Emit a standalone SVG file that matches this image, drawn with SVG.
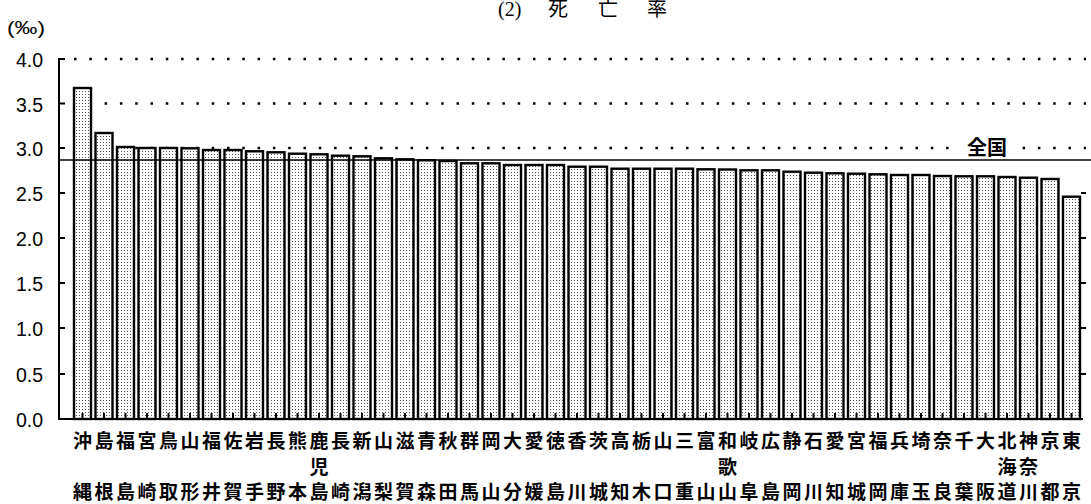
<svg xmlns="http://www.w3.org/2000/svg" width="1091" height="504" viewBox="0 0 1091 504">
<defs>
<pattern id="dots" width="3" height="3" patternUnits="userSpaceOnUse">
<rect width="3" height="3" fill="#fff"/>
<rect x="1" y="1" width="1" height="1" fill="#555"/>
</pattern>
</defs>
<style>
.bar{fill:url(#dots);stroke:#000;stroke-width:2.4}
.grid{stroke:#000;stroke-width:2.5;stroke-dasharray:2.5 12.8;fill:none}
.ax{stroke:#000;stroke-width:2;fill:none}
.yl{font-family:"Liberation Sans",Arial,sans-serif;font-size:19.5px;text-anchor:end;fill:#000}
.lb{font-family:"Noto Sans CJK JP",sans-serif;font-size:19px;font-weight:bold;text-anchor:middle;fill:#000}
.tt{font-family:"Liberation Serif","Noto Sans CJK JP",serif;font-size:20px;fill:#000}
</style>
<rect width="1091" height="504" fill="#fff"/>
<text class="tt" y="16"><tspan x="498">(2)</tspan><tspan x="548">死</tspan><tspan x="598">亡</tspan><tspan x="647">率</tspan></text>
<text x="7" y="34" font-family="'Liberation Sans',Arial,sans-serif" font-size="19" textLength="38" lengthAdjust="spacingAndGlyphs">(‰)</text>
<g id="axes">
<line class="grid" x1="74" y1="59" x2="1086" y2="59"/>
<line class="grid" x1="74" y1="103.5" x2="1086" y2="103.5"/>
<line class="grid" x1="74" y1="148" x2="1086" y2="148"/>
<line class="ax" x1="59" y1="58" x2="59" y2="420"/>
<line class="ax" x1="58" y1="419" x2="1083" y2="419"/>
<path class="ax" d="M59 59H65M59 103.5H65M59 148H65M59 193H65M59 238H65M59 283H65M59 328H65M59 374H65M1081 193H1086M1081 238H1086M1081 283H1086M1081 328H1086M1081 374H1086"/>
<text class="yl" x="43" y="67">4.0</text>
<text class="yl" x="43" y="111.5">3.5</text>
<text class="yl" x="43" y="156">3.0</text>
<text class="yl" x="43" y="201">2.5</text>
<text class="yl" x="43" y="246">2.0</text>
<text class="yl" x="43" y="291">1.5</text>
<text class="yl" x="43" y="336">1.0</text>
<text class="yl" x="43" y="382">0.5</text>
<text class="yl" x="43" y="427">0.0</text>
</g>
<g id="bars">
<g id="b00"><rect class="bar" x="74" y="88" width="17" height="331"/><text class="lb" x="82.5" y="447.5">沖</text><text class="lb" x="82.5" y="499">縄</text></g>
<g id="b01"><rect class="bar" x="95.5" y="133" width="17" height="286"/><text class="lb" x="104" y="447.5">島</text><text class="lb" x="104" y="499">根</text></g>
<g id="b02"><rect class="bar" x="117" y="147" width="17" height="272"/><text class="lb" x="125.5" y="447.5">福</text><text class="lb" x="125.5" y="499">島</text></g>
<g id="b03"><rect class="bar" x="138.5" y="148" width="17" height="271"/><text class="lb" x="147" y="447.5">宮</text><text class="lb" x="147" y="499">崎</text></g>
<g id="b04"><rect class="bar" x="160" y="148" width="17" height="271"/><text class="lb" x="168.5" y="447.5">鳥</text><text class="lb" x="168.5" y="499">取</text></g>
<g id="b05"><rect class="bar" x="181.5" y="148.3" width="17" height="270.7"/><text class="lb" x="190" y="447.5">山</text><text class="lb" x="190" y="499">形</text></g>
<g id="b06"><rect class="bar" x="203" y="150" width="17" height="269"/><text class="lb" x="211.5" y="447.5">福</text><text class="lb" x="211.5" y="499">井</text></g>
<g id="b07"><rect class="bar" x="224.5" y="150" width="17" height="269"/><text class="lb" x="233" y="447.5">佐</text><text class="lb" x="233" y="499">賀</text></g>
<g id="b08"><rect class="bar" x="246" y="151.3" width="17" height="267.7"/><text class="lb" x="254.5" y="447.5">岩</text><text class="lb" x="254.5" y="499">手</text></g>
<g id="b09"><rect class="bar" x="267.5" y="152.3" width="17" height="266.7"/><text class="lb" x="276" y="447.5">長</text><text class="lb" x="276" y="499">野</text></g>
<g id="b10"><rect class="bar" x="289" y="153.7" width="17" height="265.3"/><text class="lb" x="297.5" y="447.5">熊</text><text class="lb" x="297.5" y="499">本</text></g>
<g id="b11"><rect class="bar" x="310.5" y="154.3" width="17" height="264.7"/><text class="lb" x="319" y="447.5">鹿</text><text class="lb" x="319" y="473.5">児</text><text class="lb" x="319" y="499">島</text></g>
<g id="b12"><rect class="bar" x="332" y="155.7" width="17" height="263.3"/><text class="lb" x="340.5" y="447.5">長</text><text class="lb" x="340.5" y="499">崎</text></g>
<g id="b13"><rect class="bar" x="353.5" y="156.3" width="17" height="262.7"/><text class="lb" x="362" y="447.5">新</text><text class="lb" x="362" y="499">潟</text></g>
<g id="b14"><rect class="bar" x="375" y="158.3" width="17" height="260.7"/><text class="lb" x="383.5" y="447.5">山</text><text class="lb" x="383.5" y="499">梨</text></g>
<g id="b15"><rect class="bar" x="396.5" y="159.3" width="17" height="259.7"/><text class="lb" x="405" y="447.5">滋</text><text class="lb" x="405" y="499">賀</text></g>
<g id="b16"><rect class="bar" x="418" y="160.3" width="17" height="258.7"/><text class="lb" x="426.5" y="447.5">青</text><text class="lb" x="426.5" y="499">森</text></g>
<g id="b17"><rect class="bar" x="439.5" y="161" width="17" height="258"/><text class="lb" x="448" y="447.5">秋</text><text class="lb" x="448" y="499">田</text></g>
<g id="b18"><rect class="bar" x="461" y="163.3" width="17" height="255.7"/><text class="lb" x="469.5" y="447.5">群</text><text class="lb" x="469.5" y="499">馬</text></g>
<g id="b19"><rect class="bar" x="482.5" y="163.3" width="17" height="255.7"/><text class="lb" x="491" y="447.5">岡</text><text class="lb" x="491" y="499">山</text></g>
<g id="b20"><rect class="bar" x="504" y="165" width="17" height="254"/><text class="lb" x="512.5" y="447.5">大</text><text class="lb" x="512.5" y="499">分</text></g>
<g id="b21"><rect class="bar" x="525.5" y="165" width="17" height="254"/><text class="lb" x="534" y="447.5">愛</text><text class="lb" x="534" y="499">媛</text></g>
<g id="b22"><rect class="bar" x="547" y="165" width="17" height="254"/><text class="lb" x="555.5" y="447.5">徳</text><text class="lb" x="555.5" y="499">島</text></g>
<g id="b23"><rect class="bar" x="568.5" y="166.7" width="17" height="252.3"/><text class="lb" x="577" y="447.5">香</text><text class="lb" x="577" y="499">川</text></g>
<g id="b24"><rect class="bar" x="590" y="166.7" width="17" height="252.3"/><text class="lb" x="598.5" y="447.5">茨</text><text class="lb" x="598.5" y="499">城</text></g>
<g id="b25"><rect class="bar" x="611.5" y="168.7" width="17" height="250.3"/><text class="lb" x="620" y="447.5">高</text><text class="lb" x="620" y="499">知</text></g>
<g id="b26"><rect class="bar" x="633" y="168.7" width="17" height="250.3"/><text class="lb" x="641.5" y="447.5">栃</text><text class="lb" x="641.5" y="499">木</text></g>
<g id="b27"><rect class="bar" x="654.5" y="168.7" width="17" height="250.3"/><text class="lb" x="663" y="447.5">山</text><text class="lb" x="663" y="499">口</text></g>
<g id="b28"><rect class="bar" x="676" y="168.7" width="17" height="250.3"/><text class="lb" x="684.5" y="447.5">三</text><text class="lb" x="684.5" y="499">重</text></g>
<g id="b29"><rect class="bar" x="697.5" y="169.3" width="17" height="249.7"/><text class="lb" x="706" y="447.5">富</text><text class="lb" x="706" y="499">山</text></g>
<g id="b30"><rect class="bar" x="719" y="169.5" width="17" height="249.5"/><text class="lb" x="727.5" y="447.5">和</text><text class="lb" x="727.5" y="473.5">歌</text><text class="lb" x="727.5" y="499">山</text></g>
<g id="b31"><rect class="bar" x="740.5" y="170.3" width="17" height="248.7"/><text class="lb" x="749" y="447.5">岐</text><text class="lb" x="749" y="499">阜</text></g>
<g id="b32"><rect class="bar" x="762" y="170.3" width="17" height="248.7"/><text class="lb" x="770.5" y="447.5">広</text><text class="lb" x="770.5" y="499">島</text></g>
<g id="b33"><rect class="bar" x="783.5" y="171.7" width="17" height="247.3"/><text class="lb" x="792" y="447.5">静</text><text class="lb" x="792" y="499">岡</text></g>
<g id="b34"><rect class="bar" x="805" y="172.7" width="17" height="246.3"/><text class="lb" x="813.5" y="447.5">石</text><text class="lb" x="813.5" y="499">川</text></g>
<g id="b35"><rect class="bar" x="826.5" y="173.3" width="17" height="245.7"/><text class="lb" x="835" y="447.5">愛</text><text class="lb" x="835" y="499">知</text></g>
<g id="b36"><rect class="bar" x="848" y="173.7" width="17" height="245.3"/><text class="lb" x="856.5" y="447.5">宮</text><text class="lb" x="856.5" y="499">城</text></g>
<g id="b37"><rect class="bar" x="869.5" y="174.3" width="17" height="244.7"/><text class="lb" x="878" y="447.5">福</text><text class="lb" x="878" y="499">岡</text></g>
<g id="b38"><rect class="bar" x="891" y="175" width="17" height="244"/><text class="lb" x="899.5" y="447.5">兵</text><text class="lb" x="899.5" y="499">庫</text></g>
<g id="b39"><rect class="bar" x="912.5" y="175" width="17" height="244"/><text class="lb" x="921" y="447.5">埼</text><text class="lb" x="921" y="499">玉</text></g>
<g id="b40"><rect class="bar" x="934" y="176" width="17" height="243"/><text class="lb" x="942.5" y="447.5">奈</text><text class="lb" x="942.5" y="499">良</text></g>
<g id="b41"><rect class="bar" x="955.5" y="176.3" width="17" height="242.7"/><text class="lb" x="964" y="447.5">千</text><text class="lb" x="964" y="499">葉</text></g>
<g id="b42"><rect class="bar" x="977" y="176.3" width="17" height="242.7"/><text class="lb" x="985.5" y="447.5">大</text><text class="lb" x="985.5" y="499">阪</text></g>
<g id="b43"><rect class="bar" x="998.5" y="177" width="17" height="242"/><text class="lb" x="1007" y="447.5">北</text><text class="lb" x="1007" y="473.5">海</text><text class="lb" x="1007" y="499">道</text></g>
<g id="b44"><rect class="bar" x="1020" y="177.7" width="17" height="241.3"/><text class="lb" x="1028.5" y="447.5">神</text><text class="lb" x="1028.5" y="473.5">奈</text><text class="lb" x="1028.5" y="499">川</text></g>
<g id="b45"><rect class="bar" x="1041.5" y="179" width="17" height="240"/><text class="lb" x="1050" y="447.5">京</text><text class="lb" x="1050" y="499">都</text></g>
<g id="b46"><rect class="bar" x="1063" y="196.7" width="17" height="222.3"/><text class="lb" x="1071.5" y="447.5">東</text><text class="lb" x="1071.5" y="499">京</text></g>
</g>
<g id="ticks">
<path class="ax" stroke-width="1.5" d="M82.5 419v-6M104 419v-6M125.5 419v-6M147 419v-6M168.5 419v-6M190 419v-6M211.5 419v-6M233 419v-6M254.5 419v-6M276 419v-6M297.5 419v-6M319 419v-6M340.5 419v-6M362 419v-6M383.5 419v-6M405 419v-6M426.5 419v-6M448 419v-6M469.5 419v-6M491 419v-6M512.5 419v-6M534 419v-6M555.5 419v-6M577 419v-6M598.5 419v-6M620 419v-6M641.5 419v-6M663 419v-6M684.5 419v-6M706 419v-6M727.5 419v-6M749 419v-6M770.5 419v-6M792 419v-6M813.5 419v-6M835 419v-6M856.5 419v-6M878 419v-6M899.5 419v-6M921 419v-6M942.5 419v-6M964 419v-6M985.5 419v-6M1007 419v-6M1028.5 419v-6M1050 419v-6M1071.5 419v-6"/>
</g>
<g id="national">
<line x1="59" y1="160" x2="1091" y2="160" stroke="#000" stroke-width="1.5"/>
<rect x="961" y="138" width="57" height="19" fill="#fff"/>
<text x="967" y="155" font-family="'Noto Sans CJK JP',sans-serif" font-size="20" font-weight="bold">全国</text>
</g>
</svg>
